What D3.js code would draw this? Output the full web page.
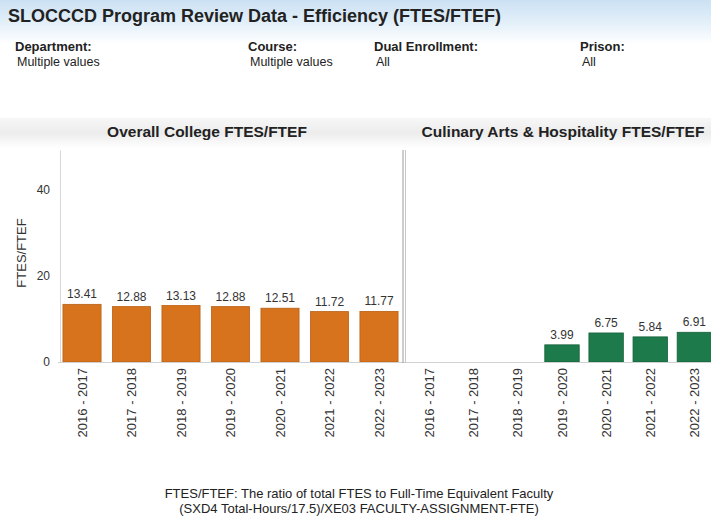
<!DOCTYPE html>
<meta charset="utf-8">
<style>
body { margin: 0; background: #fff; }
svg text { font-family: "Liberation Sans", Arial, sans-serif; fill: #222; }
.axis path, .axis line { stroke: #d8d8d8; }
.xlab { font-size: 13px; fill: #333; }
.vlab { font-size: 12px; fill: #333; }
</style>
<svg id="chart" width="711" height="523"></svg>
<script src="https://d3js.org/d3.v7.min.js"></script>
<script>

var years = ["2016 - 2017", "2017 - 2018", "2018 - 2019", "2019 - 2020", "2020 - 2021", "2021 - 2022", "2022 - 2023"];
var overallVals = [13.41, 12.88, 13.13, 12.88, 12.51, 11.72, 11.77];
var culinaryVals = [null, null, null, 3.99, 6.75, 5.84, 6.91];
var yTicks = [0, 20, 40];
var filters = [
  {label: "Department:", value: "Multiple values", x: 15},
  {label: "Course:", value: "Multiple values", x: 248},
  {label: "Dual Enrollment:", value: "All", x: 374},
  {label: "Prison:", value: "All", x: 580}
];

var svg = d3.select("svg");

var defs = svg.append("defs");
var bg = defs.append("linearGradient").attr("id", "bg").attr("x1", 0).attr("y1", 0).attr("x2", 0).attr("y2", 1);
bg.append("stop").attr("offset", "0%").attr("stop-color", "#cbe1f3");
bg.append("stop").attr("offset", "50%").attr("stop-color", "#e2eff9");
bg.append("stop").attr("offset", "100%").attr("stop-color", "#ffffff");
var hd = defs.append("linearGradient").attr("id", "hd").attr("x1", 0).attr("y1", 0).attr("x2", 0).attr("y2", 1);
hd.append("stop").attr("offset", "0%").attr("stop-color", "#f7f7f7");
hd.append("stop").attr("offset", "50%").attr("stop-color", "#ececec");
hd.append("stop").attr("offset", "100%").attr("stop-color", "#ffffff");

svg.append("rect").attr("x", 0).attr("y", 0).attr("width", 711).attr("height", 44).attr("fill", "url(#bg)");
svg.append("rect").attr("x", 0).attr("y", 118).attr("width", 711).attr("height", 30).attr("fill", "url(#hd)");

svg.append("text")
    .attr("x", 8).attr("y", 22)
    .style("font-size", "18px").style("font-weight", "bold")
    .text("SLOCCCD Program Review Data - Efficiency (FTES/FTEF)");

var f = svg.selectAll(".filter").data(filters).enter().append("g").attr("class", "filter");
f.append("text").attr("x", function(d) { return d.x; }).attr("y", 51)
    .style("font-size", "13px").style("font-weight", "bold").text(function(d) { return d.label; });
f.append("text").attr("x", function(d) { return d.x + 2; }).attr("y", 66)
    .style("font-size", "12.5px").text(function(d) { return d.value; });

// shared y scale
var y = d3.scaleLinear().domain([0, 49.3]).range([362, 150]);

var panels = [
  {title: "Overall College FTES/FTEF", vals: overallVals, range: [58, 403], pin: 0.23, color: "#d8731d", stroke: "#b95f14", tx: 207},
  {title: "Culinary Arts & Hospitality FTES/FTEF", vals: culinaryVals, range: [408, 716], pin: 0.22, color: "#1d7b4b", stroke: "#145f39", tx: 563}
];

panels.forEach(function(p) {
  var x = d3.scaleBand().domain(years).range(p.range).paddingInner(p.pin).paddingOuter(0.1);
  var g = svg.append("g");

  g.append("text")
      .attr("x", p.tx).attr("y", 137)
      .attr("text-anchor", "middle")
      .style("font-size", "15.5px").style("font-weight", "bold")
      .text(p.title);

  var data = years.map(function(yr, i) { return {year: yr, v: p.vals[i]}; })
      .filter(function(d) { return d.v != null; });

  g.selectAll(".bar").data(data).enter().append("rect")
      .attr("class", "bar")
      .attr("x", function(d) { return x(d.year); })
      .attr("y", function(d) { return y(d.v); })
      .attr("width", x.bandwidth())
      .attr("height", function(d) { return y(0) - y(d.v); })
      .attr("fill", p.color)
      .attr("stroke", p.stroke)
      .attr("stroke-width", 0.8);

  g.selectAll(".vlab").data(data).enter().append("text")
      .attr("class", "vlab")
      .attr("x", function(d) { return x(d.year) + x.bandwidth() / 2; })
      .attr("y", function(d) { return y(d.v) - 6; })
      .attr("text-anchor", "middle")
      .text(function(d) { return d.v.toFixed(2); });

  var xa = g.append("g")
      .attr("class", "axis")
      .attr("transform", "translate(0," + y(0) + ")")
      .call(d3.axisBottom(x).tickSize(0).tickPadding(0));
  xa.select(".domain").remove();
  xa.selectAll("text")
      .attr("class", "xlab")
      .attr("transform", "rotate(-90)")
      .attr("x", -6).attr("y", 0).attr("dy", "0.35em")
      .attr("text-anchor", "end");
});

// baseline and y axis
svg.append("line").attr("x1", 58).attr("x2", 711).attr("y1", y(0) + 0.5).attr("y2", y(0) + 0.5)
    .attr("stroke", "#d0d0d0");
var ya = svg.append("g")
    .attr("class", "axis")
    .attr("transform", "translate(60,0)")
    .call(d3.axisLeft(y).tickValues(yTicks).tickSize(0).tickPadding(10));
ya.select(".domain").attr("stroke", "#dcdcdc");
ya.selectAll("text").style("font-size", "12px").style("fill", "#333");

svg.append("line").attr("x1", 403).attr("x2", 403).attr("y1", 150).attr("y2", 363).attr("stroke", "#9a9a9a");
svg.append("line").attr("x1", 405.5).attr("x2", 405.5).attr("y1", 150).attr("y2", 363).attr("stroke", "#c8c8c8");

svg.append("text")
    .attr("transform", "translate(26,253) rotate(-90)")
    .attr("text-anchor", "middle")
    .style("font-size", "13px").style("fill", "#333")
    .text("FTES/FTEF");

svg.append("text").attr("x", 359).attr("y", 498).attr("text-anchor", "middle")
    .style("font-size", "13px")
    .text("FTES/FTEF: The ratio of total FTES to Full-Time Equivalent Faculty");
svg.append("text").attr("x", 359).attr("y", 513).attr("text-anchor", "middle")
    .style("font-size", "13px")
    .text("(SXD4 Total-Hours/17.5)/XE03 FACULTY-ASSIGNMENT-FTE)");

</script>
